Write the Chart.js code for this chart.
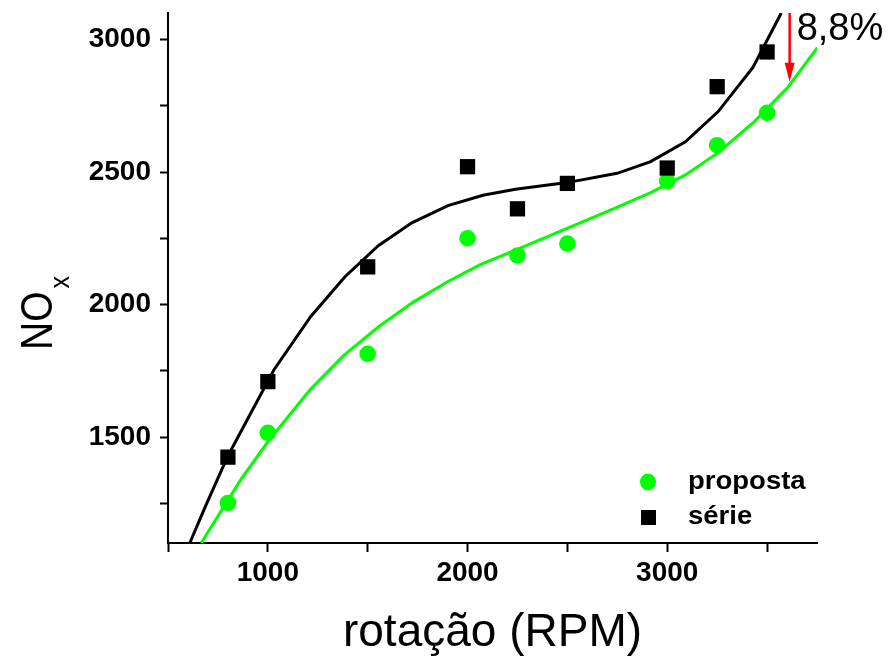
<!DOCTYPE html>
<html><head><meta charset="utf-8">
<script src="https://cdn.jsdelivr.net/npm/chart.js@4/dist/chart.umd.min.js"></script>
<style>html,body{margin:0;padding:0;background:#fff}#wrap{width:889px;height:656px}</style>
</head><body><div id="wrap"><canvas id="c" width="889" height="656"></canvas></div>
<script>
const rpm = [800, 1000, 1500, 2000, 2250, 2500, 3000, 3250, 3500];
const proposta = [1251, 1516, 1814, 2250, 2185, 2230, 2466, 2601, 2723];
const serie = [1424, 1709, 2142, 2520, 2361, 2457, 2515, 2822, 2953];
const fitSerieX = [609, 688, 797, 862, 1030, 1215, 1385, 1553, 1721, 1902, 2077, 2240, 2498, 2749, 2917, 3091, 3255, 3429, 3571];
const fitSerieY = [1100, 1239, 1424, 1516, 1753, 1955, 2104, 2222, 2308, 2373, 2412, 2435, 2460, 2495, 2539, 2614, 2728, 2895, 3100];
const fitPropostaX = [666, 866, 1000, 1211, 1379, 1553, 1728, 1902, 2066, 2240, 2498, 2753, 2917, 3091, 3255, 3429, 3604, 3752];
const fitPropostaY = [1100, 1341, 1482, 1678, 1807, 1915, 2009, 2087, 2151, 2205, 2287, 2368, 2422, 2489, 2573, 2685, 2820, 2969];
const xTicks = [500, 1000, 1500, 2000, 2500, 3000, 3500];
const xLabeled = [1000, 2000, 3000];
const yTicks = [1250, 1500, 1750, 2000, 2250, 2500, 2750, 3000];
const yLabeled = [1500, 2000, 2500, 3000];
const legendLabels = ['proposta', 'série'];
const annotationText = '8,8%';
const arrowX = 3613, arrowTop = 3100, arrowTip = 2841;

const FONT = "'Liberation Sans', Arial, sans-serif";
const GREEN = '#00ff00';

function pts(xs, ys) { return xs.map((x, i) => ({x: x, y: ys[i]})); }

const extras = {
  id: 'extras',
  afterDraw(chart) {
    const ctx = chart.ctx;
    const xs = chart.scales.x, ys = chart.scales.y;
    ctx.save();
    // y axis title NOx
    ctx.fillStyle = '#000';
    ctx.translate(52, 350);
    ctx.rotate(-Math.PI / 2);
    ctx.scale(1, 1.12);
    ctx.font = '39px ' + FONT;
    ctx.textBaseline = 'alphabetic';
    ctx.textAlign = 'left';
    ctx.fillText('NO', 0, 0);
    const w = ctx.measureText('NO').width;
    ctx.font = '25px ' + FONT;
    ctx.fillText('x', w + 3, 15);
    ctx.restore();

    // legend
    ctx.save();
    ctx.fillStyle = GREEN;
    ctx.beginPath(); ctx.ellipse(648, 482, 8, 8.5, 0, 0, Math.PI * 2); ctx.fill();
    ctx.fillStyle = '#000';
    ctx.fillRect(641, 510, 15, 15);
    ctx.translate(688, 0);
    ctx.scale(1.1, 1);
    ctx.font = 'bold 25px ' + FONT;
    ctx.textBaseline = 'middle';
    ctx.textAlign = 'left';
    ctx.fillText(legendLabels[0], 0, 482);
    ctx.fillText(legendLabels[1], 0, 517);
    ctx.restore();

    // arrow
    const ax = xs.getPixelForValue(arrowX);
    const ay0 = ys.getPixelForValue(arrowTop);
    const ay1 = ys.getPixelForValue(arrowTip);
    ctx.save();
    ctx.strokeStyle = 'red'; ctx.fillStyle = 'red';
    ctx.lineWidth = 2.5;
    ctx.beginPath(); ctx.moveTo(ax, ay0); ctx.lineTo(ax, ay1 - 16); ctx.stroke();
    ctx.beginPath(); ctx.moveTo(ax - 5, ay1 - 19); ctx.lineTo(ax + 5, ay1 - 19); ctx.lineTo(ax, ay1); ctx.closePath(); ctx.fill();
    ctx.font = '38px ' + FONT;
    ctx.fillStyle = '#000';
    ctx.textAlign = 'left'; ctx.textBaseline = 'alphabetic';
    ctx.fillText(annotationText, ax + 7, 40);
    ctx.restore();
  }
};

new Chart(document.getElementById('c'), {
  type: 'scatter',
  data: {
    datasets: [
      {label: 'ajuste série', data: pts(fitSerieX, fitSerieY), showLine: true, borderColor: '#000', borderWidth: 3, pointRadius: 0, tension: 0},
      {label: 'ajuste proposta', data: pts(fitPropostaX, fitPropostaY), showLine: true, borderColor: GREEN, borderWidth: 3, pointRadius: 0, tension: 0},
      {label: 'série', data: pts(rpm, serie), pointStyle: 'rect', pointRadius: 10.8, backgroundColor: '#000', borderWidth: 0},
      {label: 'proposta', data: pts(rpm, proposta), pointStyle: 'circle', pointRadius: 8.3, backgroundColor: GREEN, borderWidth: 0}
    ]
  },
  options: {
    responsive: false,
    devicePixelRatio: 1,
    animation: false,
    layout: {padding: {top: 13, right: 72, bottom: 0, left: 0}},
    plugins: {legend: {display: false}, tooltip: {enabled: false}},
    scales: {
      x: {
        type: 'linear', position: 'bottom', min: 500, max: 3750,
        afterBuildTicks: s => { s.ticks = xTicks.map(v => ({value: v})); },
        afterFit: s => { s.height = 113; s.paddingLeft = 0; s.paddingRight = 0; },
        grid: {drawOnChartArea: false, drawTicks: true, tickLength: 9, tickWidth: 2, tickColor: '#000'},
        border: {display: true, color: '#000', width: 2},
        ticks: {color: '#000', font: {family: FONT, size: 28, weight: 'bold'}, padding: 4, maxRotation: 0, autoSkip: false,
          callback: v => xLabeled.includes(v) ? String(v) : ''},
        title: {display: true, text: 'rotação (RPM)', color: '#000', font: {family: FONT, size: 46, lineHeight: 1.0}, padding: {top: 0, bottom: 0}}
      },
      y: {
        type: 'linear', min: 1100, max: 3100,
        afterBuildTicks: s => { s.ticks = yTicks.map(v => ({value: v})); },
        afterFit: s => { s.width = 168; s.paddingTop = 0; s.paddingBottom = 0; },
        grid: {drawOnChartArea: false, drawTicks: true, tickLength: 8, tickWidth: 2, tickColor: '#000'},
        border: {display: true, color: '#000', width: 2},
        ticks: {color: '#000', font: {family: FONT, size: 28, weight: 'bold'}, padding: 9, autoSkip: false,
          callback: v => yLabeled.includes(v) ? String(v) : ''}
      }
    }
  },
  plugins: [extras]
});
</script></body></html>
